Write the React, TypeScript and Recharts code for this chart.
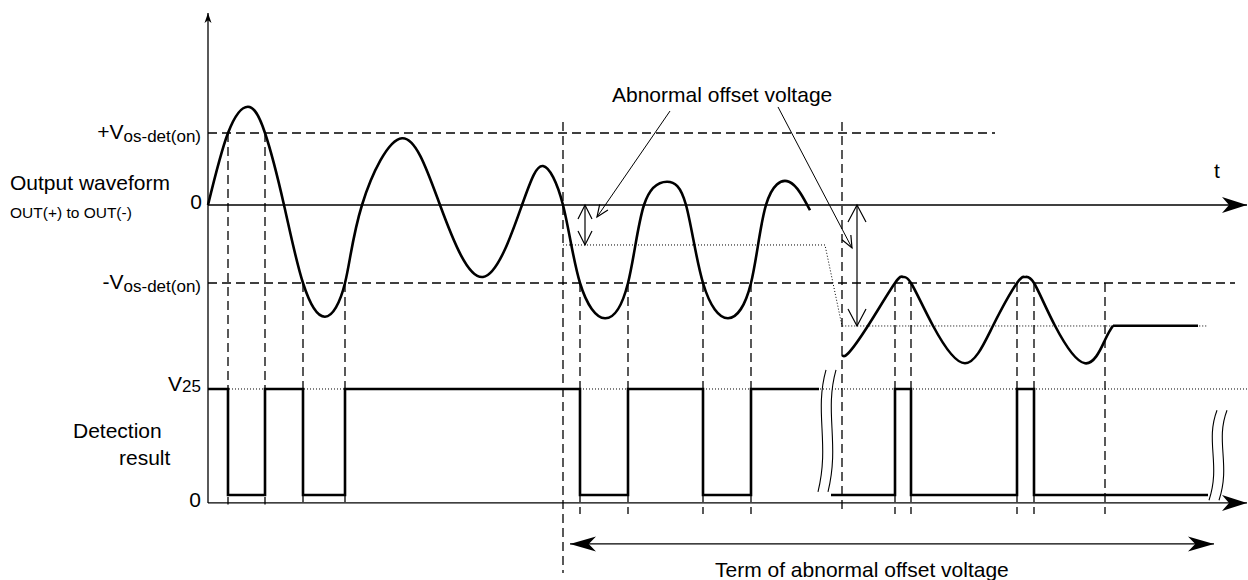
import React from "react";
import { ComposedChart, Line, XAxis, YAxis, ReferenceLine, ReferenceDot } from "recharts";

const FONT = "'Liberation Sans', Arial, Helvetica, sans-serif";

// axis domains (time in arbitrary units, output in Vos units, detection in logic level)
const timeDomain = [-20.8, 104];
const outDomain = [-5, 2.7333];
const detDomain = [-0.802, 4.67];

// levels
const VOS_POS = 0.96;
const VOS_NEG = -1.04;
const V25 = 1;
const AXIS_FLOOR = -0.075;
const T_END = 103.9;

// output waveform, before and after the time break
const waveBefore = [
  { t: 0, v: 0 },
  { t: 2.0, v: 0.96 },
  { t: 4.0, v: 1.31 },
  { t: 5.7, v: 0.96 },
  { t: 7.6, v: 0 },
  { t: 9.5, v: -1.04 },
  { t: 11.7, v: -1.49 },
  { t: 13.7, v: -1.04 },
  { t: 15.4, v: 0 },
  { t: 19.4, v: 0.89 },
  { t: 23.2, v: 0 },
  { t: 27.5, v: -0.96 },
  { t: 31.4, v: 0 },
  { t: 33.5, v: 0.52 },
  { t: 35.5, v: 0 },
  { t: 37.2, v: -1.04 },
  { t: 39.7, v: -1.51 },
  { t: 42.0, v: -1.04 },
  { t: 43.6, v: 0 },
  { t: 45.9, v: 0.31 },
  { t: 47.8, v: 0 },
  { t: 49.5, v: -1.04 },
  { t: 52.0, v: -1.51 },
  { t: 54.3, v: -1.04 },
  { t: 55.8, v: 0 },
  { t: 58.1, v: 0.31 },
  { t: 60.2, v: -0.07 },
];

const waveAfter = [
  { t: 63.4, v: -2.0 },
  { t: 64.0, v: -1.98 },
  { t: 66.0, v: -1.61 },
  { t: 68.7, v: -1.04 },
  { t: 69.5, v: -0.96 },
  { t: 70.3, v: -1.04 },
  { t: 72.5, v: -1.61 },
  { t: 75.7, v: -2.11 },
  { t: 78.5, v: -1.61 },
  { t: 80.9, v: -1.04 },
  { t: 81.7, v: -0.96 },
  { t: 82.6, v: -1.04 },
  { t: 84.7, v: -1.61 },
  { t: 87.7, v: -2.11 },
  { t: 89.7, v: -1.8 },
  { t: 90.5, v: -1.61 },
];

const waveSettled = [
  { t: 90.5, v: -1.61 },
  { t: 99.0, v: -1.61 },
];

// shifted offset level (dotted)
const offsetLevel = [
  { t: 35.5, v: -0.533 },
  { t: 61.7, v: -0.533 },
  { t: 63.4, v: -1.613 },
  { t: 100.0, v: -1.613 },
];

// detection result (1 = V25, 0 = low)
const detBefore = [
  { t: 0, v: 1 },
  { t: 2.0, v: 0 },
  { t: 5.7, v: 1 },
  { t: 9.5, v: 0 },
  { t: 13.7, v: 1 },
  { t: 37.2, v: 0 },
  { t: 42.0, v: 1 },
  { t: 49.5, v: 0 },
  { t: 54.3, v: 1 },
  { t: 61.1, v: 1 },
];

const detAfter = [
  { t: 62.3, v: 0 },
  { t: 68.7, v: 1 },
  { t: 70.3, v: 0 },
  { t: 80.9, v: 1 },
  { t: 82.6, v: 0 },
  { t: 100.0, v: 0 },
];

// dashed guide lines
const guidesPos = [2.0, 5.7];
const guidesNegEarly = [9.5, 13.7];
const guidesNegLate = [37.2, 42.0, 49.5, 54.3, 68.7, 70.3, 80.9, 82.6, 89.7];
const termStart = 35.5;
const breakEnd = 63.4;
const termArrow = { from: 36.2, to: 100.6, level: -0.462 };

const detAsOut = (d: number) =>
  outDomain[0] + ((d - detDomain[0]) / (detDomain[1] - detDomain[0])) * (outDomain[1] - outDomain[0]);

type Head = { kind: "solid" | "open"; len: number; half: number };

function head(tx: number, ty: number, fx: number, fy: number, h: Head, key: string) {
  const dx = tx - fx;
  const dy = ty - fy;
  const d = Math.hypot(dx, dy) || 1;
  const ux = dx / d;
  const uy = dy / d;
  const px = -uy;
  const py = ux;
  const bx = tx - ux * h.len;
  const by = ty - uy * h.len;
  if (h.kind === "open") {
    return (
      <polyline
        key={key}
        points={`${bx + px * h.half},${by + py * h.half} ${tx},${ty} ${bx - px * h.half},${by - py * h.half}`}
        fill="none"
        stroke="#000"
        strokeWidth={1.2}
      />
    );
  }
  const nx = tx - ux * h.len * 0.72;
  const ny = ty - uy * h.len * 0.72;
  return (
    <polygon
      key={key}
      points={`${tx},${ty} ${bx + px * h.half},${by + py * h.half} ${nx},${ny} ${bx - px * h.half},${by - py * h.half}`}
      fill="#000"
    />
  );
}

function arrowShape(opts: { start?: Head; end?: Head; width?: number }) {
  return (p: any) => (
    <g>
      <line x1={p.x1} y1={p.y1} x2={p.x2} y2={p.y2} stroke="#000" strokeWidth={opts.width ?? 1.2} />
      {opts.end && head(p.x2, p.y2, p.x1, p.y1, opts.end, "e")}
      {opts.start && head(p.x1, p.y1, p.x2, p.y2, opts.start, "s")}
    </g>
  );
}

const breakShape = (p: any) => {
  const h = p.y2 - p.y1;
  const d = (o: number) =>
    `M ${p.x1 + o} ${p.y1} C ${p.x1 + o - 12} ${p.y1 + h * 0.35}, ${p.x2 + o + 12} ${p.y1 + h * 0.6}, ${p.x2 + o} ${p.y2}`;
  return (
    <g fill="none" stroke="#000" strokeWidth={1.1}>
      <path d={d(0)} />
      <path d={d(10)} />
    </g>
  );
};

function textShape(content: React.ReactNode, anchor: "start" | "end" | "middle", dy: number, size = 21) {
  return (p: any) => (
    <text x={p.cx} y={p.cy + dy} textAnchor={anchor} fontFamily={FONT} fontSize={size} fill="#000">
      {content}
    </text>
  );
}

const dashed = { stroke: "#000", strokeWidth: 1.3, strokeDasharray: "9 5" };
const dotted = { stroke: "#000", strokeWidth: 1, strokeDasharray: "1 2" };
const bigHead: Head = { kind: "solid", len: 25, half: 8 };
const trace = { stroke: "#000", strokeWidth: 2.6, dot: false, activeDot: false, isAnimationActive: false };

export default function App() {
  return (
    <div style={{ position: "absolute", left: 0, top: 0, width: 1248, height: 580, background: "#fff" }}>
      <ComposedChart width={1248} height={580} margin={{ top: 0, right: 0, bottom: 0, left: 0 }}>
        <XAxis type="number" dataKey="t" domain={timeDomain} hide allowDataOverflow />
        <YAxis yAxisId="out" type="number" domain={outDomain} hide allowDataOverflow />
        <YAxis yAxisId="det" type="number" domain={detDomain} hide allowDataOverflow />

        {/* threshold and reference levels */}
        <ReferenceLine yAxisId="out" ifOverflow="visible" segment={[{ x: 0, y: VOS_POS }, { x: 78.7, y: VOS_POS }]} {...dashed} />
        <ReferenceLine yAxisId="out" ifOverflow="visible" segment={[{ x: 0, y: VOS_NEG }, { x: 102.7, y: VOS_NEG }]} {...dashed} />
        <ReferenceLine yAxisId="det" ifOverflow="visible" segment={[{ x: 0, y: V25 }, { x: 104, y: V25 }]} {...dotted} />

        {/* vertical guides */}
        {guidesPos.map((t) => (
          <ReferenceLine key={`gp${t}`} yAxisId="out" ifOverflow="visible" segment={[{ x: t, y: VOS_POS }, { x: t, y: detAsOut(-0.09) }]} {...dashed} />
        ))}
        {guidesNegEarly.map((t) => (
          <ReferenceLine key={`ge${t}`} yAxisId="out" ifOverflow="visible" segment={[{ x: t, y: VOS_NEG }, { x: t, y: detAsOut(-0.09) }]} {...dashed} />
        ))}
        {guidesNegLate.map((t) => (
          <ReferenceLine key={`gl${t}`} yAxisId="out" ifOverflow="visible" segment={[{ x: t, y: VOS_NEG }, { x: t, y: detAsOut(-0.18) }]} {...dashed} />
        ))}
        <ReferenceLine yAxisId="out" ifOverflow="visible" segment={[{ x: termStart, y: 1.107 }, { x: termStart, y: detAsOut(-0.736) }]} {...dashed} />
        <ReferenceLine yAxisId="out" ifOverflow="visible" segment={[{ x: breakEnd, y: 1.107 }, { x: breakEnd, y: detAsOut(-0.16) }]} {...dashed} />

        {/* axes */}
        <ReferenceLine
          yAxisId="out"
          ifOverflow="visible"
          segment={[{ x: 0, y: detAsOut(AXIS_FLOOR) }, { x: 0, y: 2.56 }]}
          shape={arrowShape({ end: { kind: "solid", len: 10, half: 3.5 }, width: 1.3 })}
        />
        <ReferenceLine yAxisId="out" ifOverflow="visible" segment={[{ x: 0, y: 0 }, { x: T_END, y: 0 }]} shape={arrowShape({ end: bigHead, width: 1.3 })} />
        <ReferenceLine yAxisId="det" ifOverflow="visible" segment={[{ x: 0, y: AXIS_FLOOR }, { x: T_END, y: AXIS_FLOOR }]} shape={arrowShape({ end: bigHead, width: 1.3 })} />

        {/* time breaks */}
        <ReferenceLine yAxisId="det" ifOverflow="visible" segment={[{ x: 61.8, y: 1.18 }, { x: 61.0, y: 0.03 }]} shape={breakShape} />
        <ReferenceLine yAxisId="det" ifOverflow="visible" segment={[{ x: 100.9, y: 0.8 }, { x: 100.1, y: -0.05 }]} shape={breakShape} />

        {/* offset annotations */}
        <Line data={offsetLevel} dataKey="v" yAxisId="out" type="linear" dot={false} activeDot={false} isAnimationActive={false} {...dotted} />
        <ReferenceLine
          yAxisId="out"
          ifOverflow="visible"
          segment={[{ x: 37.7, y: 0 }, { x: 37.7, y: -0.533 }]}
          shape={arrowShape({ start: { kind: "open", len: 14, half: 7 }, end: { kind: "open", len: 14, half: 7 } })}
        />
        <ReferenceLine
          yAxisId="out"
          ifOverflow="visible"
          segment={[{ x: 64.9, y: 0 }, { x: 64.9, y: -1.613 }]}
          shape={arrowShape({ start: { kind: "open", len: 17, half: 9 }, end: { kind: "open", len: 17, half: 9 } })}
        />
        <ReferenceLine
          yAxisId="out"
          ifOverflow="visible"
          segment={[{ x: 46.2, y: 1.253 }, { x: 38.9, y: -0.16 }]}
          shape={arrowShape({ end: { kind: "open", len: 12, half: 5 }, width: 1 })}
        />
        <ReferenceLine
          yAxisId="out"
          ifOverflow="visible"
          segment={[{ x: 57.0, y: 1.307 }, { x: 64.4, y: -0.573 }]}
          shape={arrowShape({ end: { kind: "open", len: 12, half: 5 }, width: 1 })}
        />
        <ReferenceLine
          yAxisId="det"
          ifOverflow="visible"
          segment={[{ x: termArrow.from, y: termArrow.level }, { x: termArrow.to, y: termArrow.level }]}
          shape={arrowShape({ start: { kind: "solid", len: 26, half: 7.5 }, end: { kind: "solid", len: 26, half: 7.5 }, width: 1.2 })}
        />

        {/* signals */}
        <Line data={waveBefore} dataKey="v" yAxisId="out" type="natural" {...trace} />
        <Line data={waveAfter} dataKey="v" yAxisId="out" type="natural" {...trace} />
        <Line data={waveSettled} dataKey="v" yAxisId="out" type="linear" {...trace} />
        <Line data={detBefore} dataKey="v" yAxisId="det" type="stepAfter" {...trace} />
        <Line data={detAfter} dataKey="v" yAxisId="det" type="stepAfter" {...trace} />

        {/* text */}
        <ReferenceDot
          yAxisId="out" x={-0.7} y={VOS_POS} r={0} ifOverflow="visible"
          shape={textShape([<tspan key="a">+V</tspan>, <tspan key="b" fontSize={17} dy={3}>os-det(on)</tspan>], "end", 6)}
        />
        <ReferenceDot yAxisId="out" x={-0.6} y={0} r={0} ifOverflow="visible" shape={textShape("0", "end", 4)} />
        <ReferenceDot
          yAxisId="out" x={-0.7} y={VOS_NEG} r={0} ifOverflow="visible"
          shape={textShape([<tspan key="a">-V</tspan>, <tspan key="b" fontSize={17} dy={3}>os-det(on)</tspan>], "end", 6)}
        />
        <ReferenceDot yAxisId="out" x={-19.8} y={0} r={0} ifOverflow="visible" shape={textShape("Output waveform", "start", -15)} />
        <ReferenceDot yAxisId="out" x={-19.8} y={0} r={0} ifOverflow="visible" shape={textShape("OUT(+) to OUT(-)", "start", 13, 15.5)} />
        <ReferenceDot
          yAxisId="det" x={-0.7} y={V25} r={0} ifOverflow="visible"
          shape={textShape([<tspan key="a">V</tspan>, <tspan key="b" fontSize={17} dy={1}>25</tspan>], "end", 2)}
        />
        <ReferenceDot yAxisId="det" x={-0.7} y={AXIS_FLOOR} r={0} ifOverflow="visible" shape={textShape("0", "end", 4)} />
        <ReferenceDot yAxisId="det" x={-13.5} y={0.54} r={0} ifOverflow="visible" shape={textShape("Detection", "start", 0)} />
        <ReferenceDot yAxisId="det" x={-8.9} y={0.28} r={0} ifOverflow="visible" shape={textShape("result", "start", 0)} />
        <ReferenceDot yAxisId="out" x={100.6} y={0.36} r={0} ifOverflow="visible" shape={textShape("t", "start", 0)} />
        <ReferenceDot yAxisId="out" x={40.4} y={1.373} r={0} ifOverflow="visible" shape={textShape("Abnormal offset voltage", "start", 0)} />
        <ReferenceDot yAxisId="det" x={50.7} y={-0.774} r={0} ifOverflow="visible" shape={textShape("Term of abnormal offset voltage", "start", 0)} />
      </ComposedChart>
    </div>
  );
}
